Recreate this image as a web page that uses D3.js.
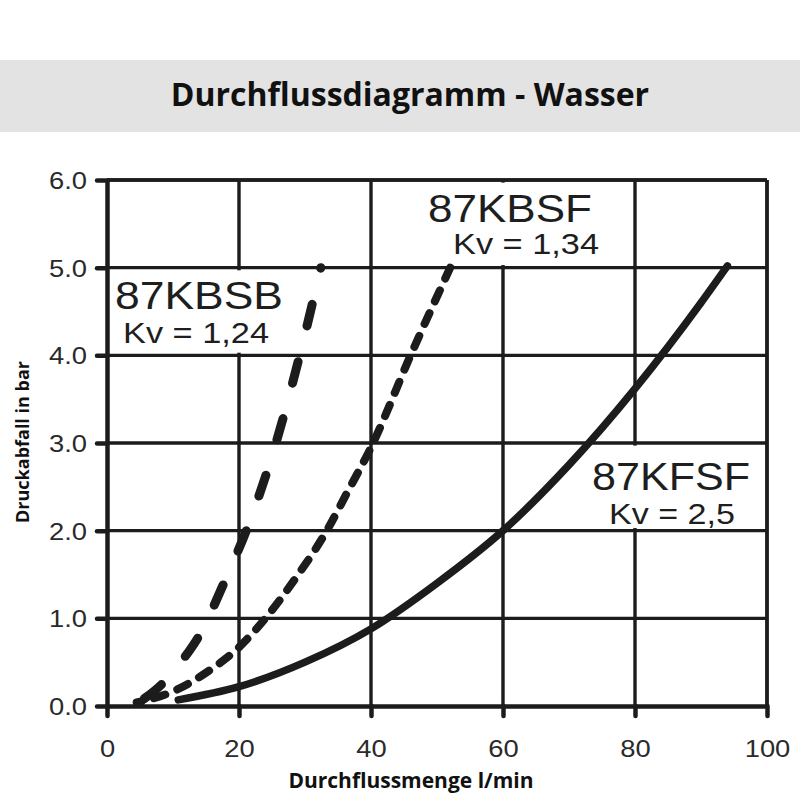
<!DOCTYPE html>
<html>
<head>
<meta charset="utf-8">
<script src="https://cdn.jsdelivr.net/npm/d3@7/dist/d3.min.js"></script>
<style>
	body { margin: 0; background: #fff; }
	svg { display: block; }
</style>
</head>
<body>
<div id="chart"></div>
<script>
// values
const xTicks = [0, 20, 40, 60, 80, 100];
const yTicks = [0, 1, 2, 3, 4, 5, 6];

const kbsbFlow = [5, 8.6, 11.4, 14.1, 17.7, 21.4, 25.6, 29.2, 32.4];
const kbsbDrop = [0.05, 0.27, 0.52, 0.82, 1.4, 2.06, 3.0, 4.0, 5.0];

const kbsfFlow = [4.5, 9.5, 15.6, 20, 24, 28.5, 33.3, 36.5, 40, 46, 52];
const kbsfDrop = [0.04, 0.15, 0.41, 0.67, 1.0, 1.45, 2.0, 2.45, 2.95, 4.0, 5.0];

const kfsfFlow = [10.8, 20, 30, 40, 50, 60, 70, 80, 90, 94];
const kfsfDrop = [0.07, 0.22, 0.5, 0.88, 1.4, 2.0, 2.75, 3.62, 4.6, 5.02];

const seriesNames = ['87KBSB', '87KBSF', '87KFSF'];
const seriesKv = ['Kv = 1,24', 'Kv = 1,34', 'Kv = 2,5'];

const width = 800, height = 800;
const margin = { left: 107, top: 180, right: 33, bottom: 94 };
const innerW = width - margin.left - margin.right;
const innerH = height - margin.top - margin.bottom;
const ink = '#1c1c1c';
const stretch = 1.14;

let svg = d3.select('#chart').append('svg')
	.attr('width', width)
	.attr('height', height);

// title band
svg.append('rect')
	.attr('x', 0).attr('y', 60)
	.attr('width', width).attr('height', 72)
	.attr('fill', '#e3e3e3');
svg.append('text')
	.attr('x', 410).attr('y', 106)
	.attr('text-anchor', 'middle')
	.attr('font-family', '"Open Sans", sans-serif')
	.attr('font-weight', 700)
	.attr('font-size', 32)
	.attr('fill', '#111')
	.text('Durchflussdiagramm - Wasser');

let x = d3.scaleLinear().domain([0, 100]).range([0, innerW]);
let y = d3.scaleLinear().domain([0, 6]).range([innerH, 0]);

let g = svg.append('g')
	.attr('transform', `translate(${margin.left},${margin.top})`);

// grid
let grid = g.append('g').attr('class', 'grid')
	.attr('stroke', ink).attr('stroke-width', 3.4);
grid.selectAll('line.h')
	.data(yTicks.filter(d => d > 0))
	.join('line')
	.attr('class', 'h')
	.attr('x1', 0).attr('x2', innerW)
	.attr('y1', d => y(d)).attr('y2', d => y(d));
grid.selectAll('line.v')
	.data(xTicks.filter(d => d > 0))
	.join('line')
	.attr('class', 'v')
	.attr('x1', d => x(d)).attr('x2', d => x(d))
	.attr('y1', 0).attr('y2', innerH);

// label backgrounds hide the grid behind the curve names
const labels = [
	{ i: 0, box: [2, 4.03, 30, 4.97], nx: 115, ny: 309, nw: 168, kx: 123, ky: 343, kw: 146 },
	{ i: 1, box: [48, 5.03, 79, 5.97], nx: 428, ny: 222, nw: 164, kx: 453, ky: 254, kw: 146 },
	{ i: 2, box: [72, 2.03, 99.5, 2.97], nx: 592, ny: 490, nw: 158, kx: 609, ky: 524, kw: 126 },
];
g.selectAll('rect.lbl')
	.data(labels)
	.join('rect')
	.attr('class', 'lbl')
	.attr('x', d => x(d.box[0]))
	.attr('y', d => y(d.box[3]))
	.attr('width', d => x(d.box[2]) - x(d.box[0]))
	.attr('height', d => y(d.box[1]) - y(d.box[3]))
	.attr('fill', '#fff');

// axes
let axisX = d3.axisBottom(x).tickValues(xTicks).tickSizeInner(10).tickSizeOuter(0).tickPadding(14)
	.tickFormat(d3.format('d'));
let axisY = d3.axisLeft(y).tickValues(yTicks).tickSizeInner(10).tickSizeOuter(0).tickPadding(14)
	.tickFormat(d3.format('.1f'));

let gx = g.append('g').attr('transform', `translate(0,${innerH})`).call(axisX);
let gy = g.append('g').call(axisY);

[gx, gy].forEach(a => {
	a.select('.domain').attr('stroke', ink).attr('stroke-width', 4.5);
	a.selectAll('.tick line').attr('stroke', ink).attr('stroke-width', 4.5).attr('stroke-linecap', 'round');
	a.selectAll('.tick text')
		.attr('font-family', '"Liberation Sans", Arial, sans-serif')
		.attr('font-size', 24)
		.attr('fill', '#2a2a2a');
});
gx.selectAll('.tick text').attr('dy', null).attr('y', 51);
gy.selectAll('.tick text').attr('x', -20).attr('dy', '0.36em');

// widen the glyphs like the original artwork
function widen(sel, f) {
	sel.each(function () {
		let w = this.getComputedTextLength();
		d3.select(this).attr('textLength', w * f).attr('lengthAdjust', 'spacingAndGlyphs');
	});
}
widen(gx.selectAll('.tick text'), stretch);
widen(gy.selectAll('.tick text'), stretch);

// top and right frame
g.append('line').attr('x1', 0).attr('x2', innerW).attr('y1', 0).attr('y2', 0)
	.attr('stroke', ink).attr('stroke-width', 3.4);
g.append('line').attr('x1', innerW).attr('x2', innerW).attr('y1', 0).attr('y2', innerH)
	.attr('stroke', ink).attr('stroke-width', 3.4);

// curve labels
let lt = svg.append('g')
	.attr('font-family', '"Liberation Sans", Arial, sans-serif')
	.attr('fill', '#1e1e1e');
labels.forEach(d => {
	lt.append('text')
		.attr('x', d.nx).attr('y', d.ny)
		.attr('font-size', 39)
		.attr('textLength', d.nw).attr('lengthAdjust', 'spacingAndGlyphs')
		.text(seriesNames[d.i]);
	lt.append('text')
		.attr('x', d.kx).attr('y', d.ky)
		.attr('font-size', 30)
		.attr('textLength', d.kw).attr('lengthAdjust', 'spacingAndGlyphs')
		.text(seriesKv[d.i]);
});

// curves; 'end' = how much of a dash sits at the 5 bar end
const series = [
	{ flow: kbsbFlow, drop: kbsbDrop, w: 9, dash: '22,37', end: 0.6 },
	{ flow: kbsfFlow, drop: kbsfDrop, w: 8, dash: '12,13', end: 12 },
	{ flow: kfsfFlow, drop: kfsfDrop, w: 7.5, dash: null, end: 0 },
];
let line = d3.line()
	.x(d => x(d[0]))
	.y(d => y(d[1]))
	.curve(d3.curveMonotoneX);

g.append('g').attr('class', 'line-group')
	.selectAll('path')
	.data(series)
	.join('path')
	.attr('d', s => line(d3.zip(s.flow, s.drop)))
	.attr('fill', 'none')
	.attr('stroke', ink)
	.attr('stroke-width', s => s.w)
	.attr('stroke-linecap', 'round')
	.attr('stroke-linejoin', 'round')
	.each(function (s) {
		if (!s.dash) return;
		let L = this.getTotalLength();
		let period = s.dash.split(',').map(Number).reduce((a, b) => a + b, 0);
		d3.select(this)
			.attr('stroke-dasharray', s.dash)
			.attr('stroke-dashoffset', period - ((L + period - s.end) % period));
	});

// axis titles
svg.append('text')
	.attr('x', 411).attr('y', 788)
	.attr('text-anchor', 'middle')
	.attr('font-family', '"Open Sans", sans-serif')
	.attr('font-weight', 700)
	.attr('font-size', 21)
	.attr('fill', '#111')
	.text('Durchflussmenge l/min');
svg.append('text')
	.attr('transform', 'translate(29,442) rotate(-90)')
	.attr('text-anchor', 'middle')
	.attr('font-family', '"Open Sans", sans-serif')
	.attr('font-weight', 700)
	.attr('font-size', 18)
	.attr('fill', '#111')
	.text('Druckabfall in bar');
</script>
</body>
</html>
